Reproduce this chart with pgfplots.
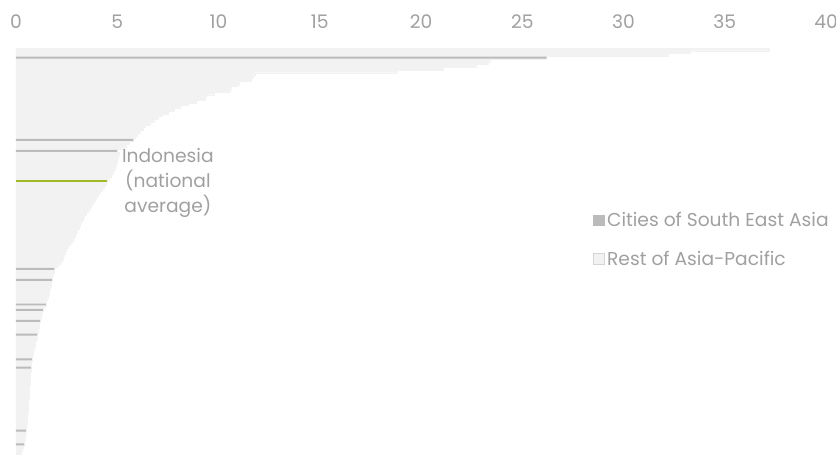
\documentclass[border=0pt]{standalone}
\usepackage{pgfplots}
\pgfplotsset{compat=1.18}
\usepackage{pgfplotstable}
\usepackage{fontspec}
\setmainfont{Poppins}
\definecolor{lightbar}{RGB}{242,242,242}
\definecolor{citybar}{RGB}{187,187,187}
\definecolor{indo}{RGB}{163,185,38}
\definecolor{txt}{RGB}{160,160,160}
\definecolor{legedge}{RGB}{212,212,212}

\pgfplotstableread{
i v
0 37.2
1 33.3
2 32.2
3 26.2
4 23.4
5 23.3
6 22.7
7 21.1
8 18.8
9 11.8
10 11.7
11 11.6
12 11.0
13 10.95
14 10.6
15 10.55
16 9.8
17 9.4
18 9.35
19 8.9
20 8.5
21 8.1
22 7.8
23 7.5
24 7.2
25 7.0
26 6.8
27 6.6
28 6.4
29 6.3
30 6.15
31 6.0
32 5.9
33 5.8
34 5.6
35 5.45
36 5.3
37 5.0
38 5.1
39 5.05
40 5.0
41 4.98
42 4.95
43 4.9
44 4.85
45 4.78
46 4.7
47 4.62
48 4.5
49 4.45
50 4.35
51 4.25
52 4.15
53 4.05
54 3.98
55 3.9
56 3.82
57 3.73
58 3.64
59 3.55
60 3.46
61 3.38
62 3.3
63 3.24
64 3.17
65 3.1
66 3.04
67 2.97
68 2.91
69 2.85
70 2.77
71 2.68
72 2.59
73 2.5
74 2.44
75 2.38
76 2.32
77 2.26
78 2.2
79 2.05
80 1.9
81 1.88
82 1.84
83 1.8
84 1.77
85 1.75
86 1.72
87 1.68
88 1.65
89 1.62
90 1.58
91 1.55
92 1.51
93 1.48
94 1.4
95 1.33
96 1.3
97 1.26
98 1.22
99 1.19
100 1.16
101 1.13
102 1.1
103 1.07
104 1.04
105 1.02
106 0.99
107 0.96
108 0.93
109 0.9
110 0.87
111 0.84
112 0.82
113 0.79
114 0.77
115 0.75
116 0.74
117 0.73
118 0.72
119 0.71
120 0.70
121 0.69
122 0.68
123 0.67
124 0.66
125 0.65
126 0.64
127 0.63
128 0.62
129 0.61
130 0.60
131 0.59
132 0.58
133 0.57
134 0.56
135 0.55
136 0.54
137 0.52
138 0.50
139 0.49
140 0.47
141 0.45
142 0.43
143 0.42
144 0.40
145 0.36
146 0.30
147 0.25
}\restdata

\pgfplotstableread{
i v
3 26.2
33 5.8
37 5.0
80 1.9
84 1.77
93 1.48
95 1.33
99 1.19
104 1.04
113 0.79
116 0.74
139 0.49
144 0.40
}\seadata

\pgfplotstableread{
i v
48 4.5
}\indodata

\begin{document}
\begin{tikzpicture}
\path[use as bounding box] (-12pt,-0.75pt) rectangle (615pt,340.5pt);
\begin{axis}[
  at={(0pt,0pt)}, anchor=south west,
  scale only axis, width=607.5pt, height=304.5pt,
  xmin=0, xmax=40, ymin=-147.5, ymax=0.5,
  hide y axis,
  x axis line style={draw=none},
  xticklabel pos=upper,
  xtick={0,5,...,40},
  major tick length=0pt,
  /pgf/number format/assume math mode=true,
  xticklabel style={anchor=center, yshift=19.5pt, text=txt, font=\fontsize{14}{16}\selectfont},
  legend image code/.code={\draw[#1] (0pt,-4pt) rectangle (8pt,4pt);},
  legend style={at={(0.7123,0.5995)}, anchor=north west, draw=none, fill=none,
    inner sep=0pt, row sep=14.8pt, font=\fontsize{14}{16}\selectfont, text=txt,
    nodes={inner ysep=1pt, inner xsep=2pt}},
  legend cell align=left,
]
\addplot[forget plot, xbar, bar shift=0pt, bar width=1, fill=lightbar, draw=lightbar, line width=0.2pt]
  table[x=v, y expr=-\thisrow{i}] {\restdata};
\addplot[forget plot, xbar, bar shift=0pt, bar width=0.72, fill=citybar, draw=none]
  table[x=v, y expr=-\thisrow{i}] {\seadata};
\addplot[forget plot, xbar, bar shift=0pt, bar width=0.85, fill=indo, draw=none]
  table[x=v, y expr=-\thisrow{i}] {\indodata};
\addlegendimage{fill=citybar, draw=citybar}
\addlegendentry{Cities of South East Asia}
\addlegendimage{fill=lightbar, draw=legedge}
\addlegendentry{Rest of Asia-Pacific}
\node[align=center, text=txt, font=\fontsize{14}{18.75}\selectfont] at (axis cs:7.5,-48.6) {Indonesia\\(national\\average)};
\end{axis}
\end{tikzpicture}
\end{document}
